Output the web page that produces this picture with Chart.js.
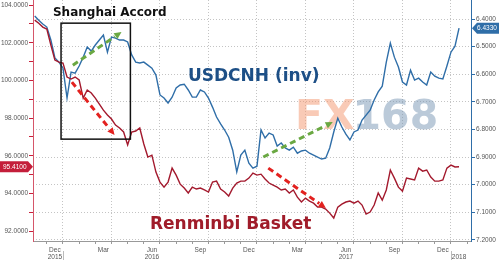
<!DOCTYPE html>
<html lang="en">
<head>
  <meta charset="UTF-8">
  <title>Shanghai Accord - USDCNH vs Renminbi Basket</title>
  <script src="https://cdn.jsdelivr.net/npm/chart.js"></script>
  <style>
    body { margin: 0; background: #fff; }
    #wrap { width: 499px; height: 260px; position: relative; }
  </style>
</head>
<body>
  <div id="wrap"><canvas id="chart"></canvas></div>

  <script>
    // weekly samples, x = months since 1 Jan 2016 (first week is early Nov 2015)
    const firstWeek = -1.75;
    const weekStep = 0.25;

    // Renminbi Basket index (left axis)
    const renminbi = [
      103.20, 103.04, 102.83, 102.73, 101.88, 101.08, 100.97, 100.92, 100.18, 100.07,
      100.18, 100.02, 99.06, 99.49, 99.33, 99.06, 98.74, 98.42, 98.16, 97.95,
      97.63, 97.47, 97.26, 96.57, 97.26, 97.31, 97.47, 96.62, 95.93, 96.03,
      95.13, 94.60, 94.33, 94.60, 95.34, 94.97, 94.49, 94.28, 94.02, 94.33,
      94.23, 94.28, 94.18, 94.07, 94.60, 94.65, 94.23, 94.07, 93.86, 94.28,
      94.55, 94.65, 94.65, 94.81, 95.08, 94.97, 95.02, 94.76, 94.55, 94.44,
      94.33, 94.18, 94.23, 94.02, 94.18, 93.80, 93.54, 93.75, 93.59, 93.48,
      93.27, 93.27, 93.17, 92.95, 92.69, 93.27, 93.43, 93.54, 93.59, 93.48,
      93.59, 93.38, 92.90, 93.01, 93.38, 94.02, 93.64, 94.18, 95.24, 94.81,
      94.33, 94.12, 94.81, 94.76, 94.71, 95.34, 95.18, 95.24, 94.87, 94.65,
      94.65, 94.71, 95.34, 95.50, 95.40, 95.41
    ];

    // USDCNH (right axis, inverted)
    const usdcnh = [
      6.389, 6.404, 6.418, 6.429, 6.476, 6.541, 6.556, 6.578, 6.686, 6.592,
      6.596, 6.570, 6.538, 6.501, 6.516, 6.494, 6.476, 6.458, 6.520, 6.465,
      6.469, 6.476, 6.476, 6.483, 6.530, 6.556, 6.559, 6.556, 6.567, 6.578,
      6.603, 6.675, 6.686, 6.704, 6.683, 6.650, 6.639, 6.636, 6.657, 6.683,
      6.683, 6.657, 6.664, 6.686, 6.719, 6.755, 6.780, 6.802, 6.828, 6.875,
      6.954, 6.893, 6.875, 6.922, 6.940, 6.933, 6.802, 6.831, 6.813, 6.820,
      6.860, 6.849, 6.867, 6.875, 6.864, 6.886, 6.878, 6.875, 6.886, 6.893,
      6.900, 6.907, 6.904, 6.867, 6.809, 6.759, 6.791, 6.817, 6.838, 6.809,
      6.802, 6.766, 6.748, 6.730, 6.693, 6.664, 6.643, 6.556, 6.487, 6.538,
      6.574, 6.628, 6.639, 6.585, 6.621, 6.614, 6.628, 6.639, 6.592, 6.607,
      6.614, 6.617, 6.570, 6.520, 6.498, 6.433
    ];

    // tick labels
    const leftTicks = [92, 93, 94, 95, 96, 97, 98, 99, 100, 101, 102, 103, 104];
    const rightTicks = [6.4, 6.5, 6.6, 6.7, 6.8, 6.9, 7.0, 7.1, 7.2];
    const monthTickPos = [-0.5, 2.5, 5.5, 8.5, 11.5, 14.5, 17.5, 20.5, 23.5, 24.5];
    const monthTickText = [['Dec', '2015'], 'Mar', ['Jun', '2016'], 'Sep', 'Dec',
                           'Mar', ['Jun', '2017'], 'Sep', 'Dec', ['', '2018']];
    const yearBreaks = [0, 24];

    const RED = '#a3192d';
    const BLUE = '#2f6ea8';
    const tickFont = { family: 'Liberation Sans', size: 6.5 };

    const toPoints = vals => vals.map((v, i) => ({ x: firstWeek + i * weekStep, y: v }));

    // x ticks every half month: integers = month starts, halves = label spots
    const xTicks = [];
    for (let m = -2; m <= 25; m++) { xTicks.push(m); xTicks.push(m + 0.5); }

    function arrow(ctx, x1, y1, x2, y2, color) {
      const ang = Math.atan2(y2 - y1, x2 - x1);
      const head = 8;
      ctx.save();
      ctx.strokeStyle = color;
      ctx.fillStyle = color;
      ctx.lineWidth = 3;
      ctx.setLineDash([6, 4]);
      ctx.beginPath();
      ctx.moveTo(x1, y1);
      ctx.lineTo(x2 - head * Math.cos(ang), y2 - head * Math.sin(ang));
      ctx.stroke();
      ctx.setLineDash([]);
      ctx.beginPath();
      ctx.moveTo(x2, y2);
      ctx.lineTo(x2 - head * Math.cos(ang - 0.45), y2 - head * Math.sin(ang - 0.45));
      ctx.lineTo(x2 - head * Math.cos(ang + 0.45), y2 - head * Math.sin(ang + 0.45));
      ctx.closePath();
      ctx.fill();
      ctx.restore();
    }

    const overlay = {
      id: 'overlay',
      beforeDatasetsDraw(chart) {
        const { ctx, scales: { x, y } } = chart;
        // watermark
        ctx.save();
        ctx.font = 'bold 41px "DejaVu Sans"';
        ctx.textBaseline = 'middle';
        const wx = x.getPixelForValue(14.35), wy = y.getPixelForValue(98.0);
        ctx.fillStyle = 'rgba(244, 150, 110, 0.5)';
        ctx.fillText('FX', wx, wy);
        const fw = ctx.measureText('FX').width;
        ctx.fillStyle = 'rgba(120, 150, 180, 0.5)';
        ctx.fillText('168', wx + fw - 2, wy);
        ctx.restore();
      },
      afterDatasetsDraw(chart) {
        const { ctx, scales: { x, y } } = chart;
        const px = (m, v) => [x.getPixelForValue(m), y.getPixelForValue(v)];

        // Shanghai Accord box
        const [bx1, by1] = px(-0.12, 103.04);
        const [bx2, by2] = px(4.17, 96.88);
        ctx.save();
        ctx.strokeStyle = '#111';
        ctx.lineWidth = 1.5;
        ctx.strokeRect(bx1, by1, bx2 - bx1, by2 - by1);
        ctx.restore();

        arrow(ctx, ...px(0.61, 100.81), ...px(3.62, 102.57), '#6aa842');
        arrow(ctx, ...px(0.55, 99.91), ...px(3.19, 97.10), '#e3211f');
        arrow(ctx, ...px(12.39, 95.93), ...px(16.69, 97.79), '#6aa842');
        arrow(ctx, ...px(12.7, 95.34), ...px(16.26, 93.22), '#e3211f');

        ctx.save();
        ctx.textBaseline = 'middle';
        ctx.font = 'bold 12px "DejaVu Sans"';
        ctx.fillStyle = '#111';
        ctx.fillText('Shanghai Accord', ...px(-0.62, 103.58));
        ctx.font = 'bold 17px "DejaVu Sans"';
        ctx.fillStyle = '#1d4f86';
        ctx.fillText('USDCNH (inv)', ...px(7.73, 100.18));
        ctx.fillStyle = '#a01c2a';
        ctx.fillText('Renminbi Basket', ...px(5.38, 92.32));
        ctx.restore();
      },
      afterDraw(chart) {
        const { ctx, scales: { x, y, y2 } } = chart;
        ctx.save();
        // year separators under the axis
        ctx.strokeStyle = '#bbb';
        ctx.lineWidth = 1;
        yearBreaks.forEach(m => {
          const xx = Math.round(x.getPixelForValue(m)) + 0.5;
          ctx.beginPath();
          ctx.moveTo(xx, x.top + 10);
          ctx.lineTo(xx, chart.height);
          ctx.stroke();
        });

        // last value badges
        ctx.font = '6.5px "Liberation Sans"';
        ctx.textBaseline = 'middle';
        const ry = y.getPixelForValue(renminbi[renminbi.length - 1]);
        const ax = chart.chartArea.left;
        ctx.fillStyle = '#c41e3a';
        ctx.beginPath();
        ctx.moveTo(0, ry - 5.5);
        ctx.lineTo(ax - 5, ry - 5.5);
        ctx.lineTo(ax, ry);
        ctx.lineTo(ax - 5, ry + 5.5);
        ctx.lineTo(0, ry + 5.5);
        ctx.closePath();
        ctx.fill();
        ctx.fillStyle = '#fff';
        ctx.textAlign = 'left';
        ctx.fillText(renminbi[renminbi.length - 1].toFixed(4), 3, ry + 0.5);

        const by = y2.getPixelForValue(usdcnh[usdcnh.length - 1]);
        const rx = chart.chartArea.right;
        ctx.fillStyle = BLUE;
        ctx.beginPath();
        ctx.moveTo(rx + 1, by);
        ctx.lineTo(rx + 6, by - 5.5);
        ctx.lineTo(chart.width, by - 5.5);
        ctx.lineTo(chart.width, by + 5.5);
        ctx.lineTo(rx + 6, by + 5.5);
        ctx.closePath();
        ctx.fill();
        ctx.fillStyle = '#fff';
        ctx.fillText(usdcnh[usdcnh.length - 1].toFixed(4), rx + 6, by + 0.5);
        ctx.restore();
      }
    };

    new Chart(document.getElementById('chart'), {
      type: 'line',
      data: {
        datasets: [
          {
            label: 'Renminbi Basket',
            data: toPoints(renminbi),
            yAxisID: 'y',
            borderColor: RED,
            borderWidth: 1.4,
            pointRadius: 0,
            tension: 0
          },
          {
            label: 'USDCNH (inv)',
            data: toPoints(usdcnh),
            yAxisID: 'y2',
            borderColor: BLUE,
            borderWidth: 1.4,
            pointRadius: 0,
            tension: 0
          }
        ]
      },
      options: {
        responsive: true,
        maintainAspectRatio: false,
        animation: false,
        layout: { padding: 0 },
        plugins: { legend: { display: false }, tooltip: { enabled: false } },
        scales: {
          x: {
            type: 'linear',
            min: -1.855,
            max: 25.24,
            afterBuildTicks: s => { s.ticks = xTicks.filter(v => v >= s.min && v <= s.max).map(v => ({ value: v })); },
            afterFit: s => { s.height = 19; s.paddingLeft = 0; s.paddingRight = 0; },
            grid: {
              color: c => (c.tick && Number.isInteger(c.tick.value) && c.tick.value % 3 === 0) ? '#c4c4c4' : 'rgba(0,0,0,0)',
              tickColor: c => (c.tick && Number.isInteger(c.tick.value)) ? '#999' : 'rgba(0,0,0,0)',
              tickLength: 3
            },
            border: { color: '#999', dash: [1, 2] },
            ticks: {
              autoSkip: false,
              maxRotation: 0,
              padding: 2,
              font: tickFont,
              color: '#555',
              callback: v => {
                const i = monthTickPos.indexOf(v);
                return i >= 0 ? monthTickText[i] : '';
              }
            }
          },
          y: {
            position: 'left',
            min: 91.47,
            max: 104.27,
            afterBuildTicks: s => { s.ticks = leftTicks.map(v => ({ value: v })); },
            afterFit: s => { s.width = 33; s.paddingTop = 0; s.paddingBottom = 0; },
            grid: { drawOnChartArea: false, tickColor: '#c8203a', tickLength: 4 },
            border: { color: '#d5566a' },
            ticks: {
              padding: 1,
              font: tickFont,
              color: '#555',
              callback: v => (v % 2 === 0 ? v.toFixed(4) : '')
            }
          },
          y2: {
            position: 'right',
            reverse: true,
            min: 6.331,
            max: 7.204,
            afterBuildTicks: s => { s.ticks = rightTicks.map(v => ({ value: v })); },
            afterFit: s => { s.width = 28; s.paddingTop = 0; s.paddingBottom = 0; },
            grid: { color: '#c4c4c4', tickColor: BLUE, tickLength: 4 },
            border: { color: BLUE, dash: [1, 2] },
            ticks: {
              padding: 1,
              font: tickFont,
              color: '#555',
              callback: v => v.toFixed(4)
            }
          }
        }
      },
      plugins: [overlay]
    });
  </script>
</body>
</html>
